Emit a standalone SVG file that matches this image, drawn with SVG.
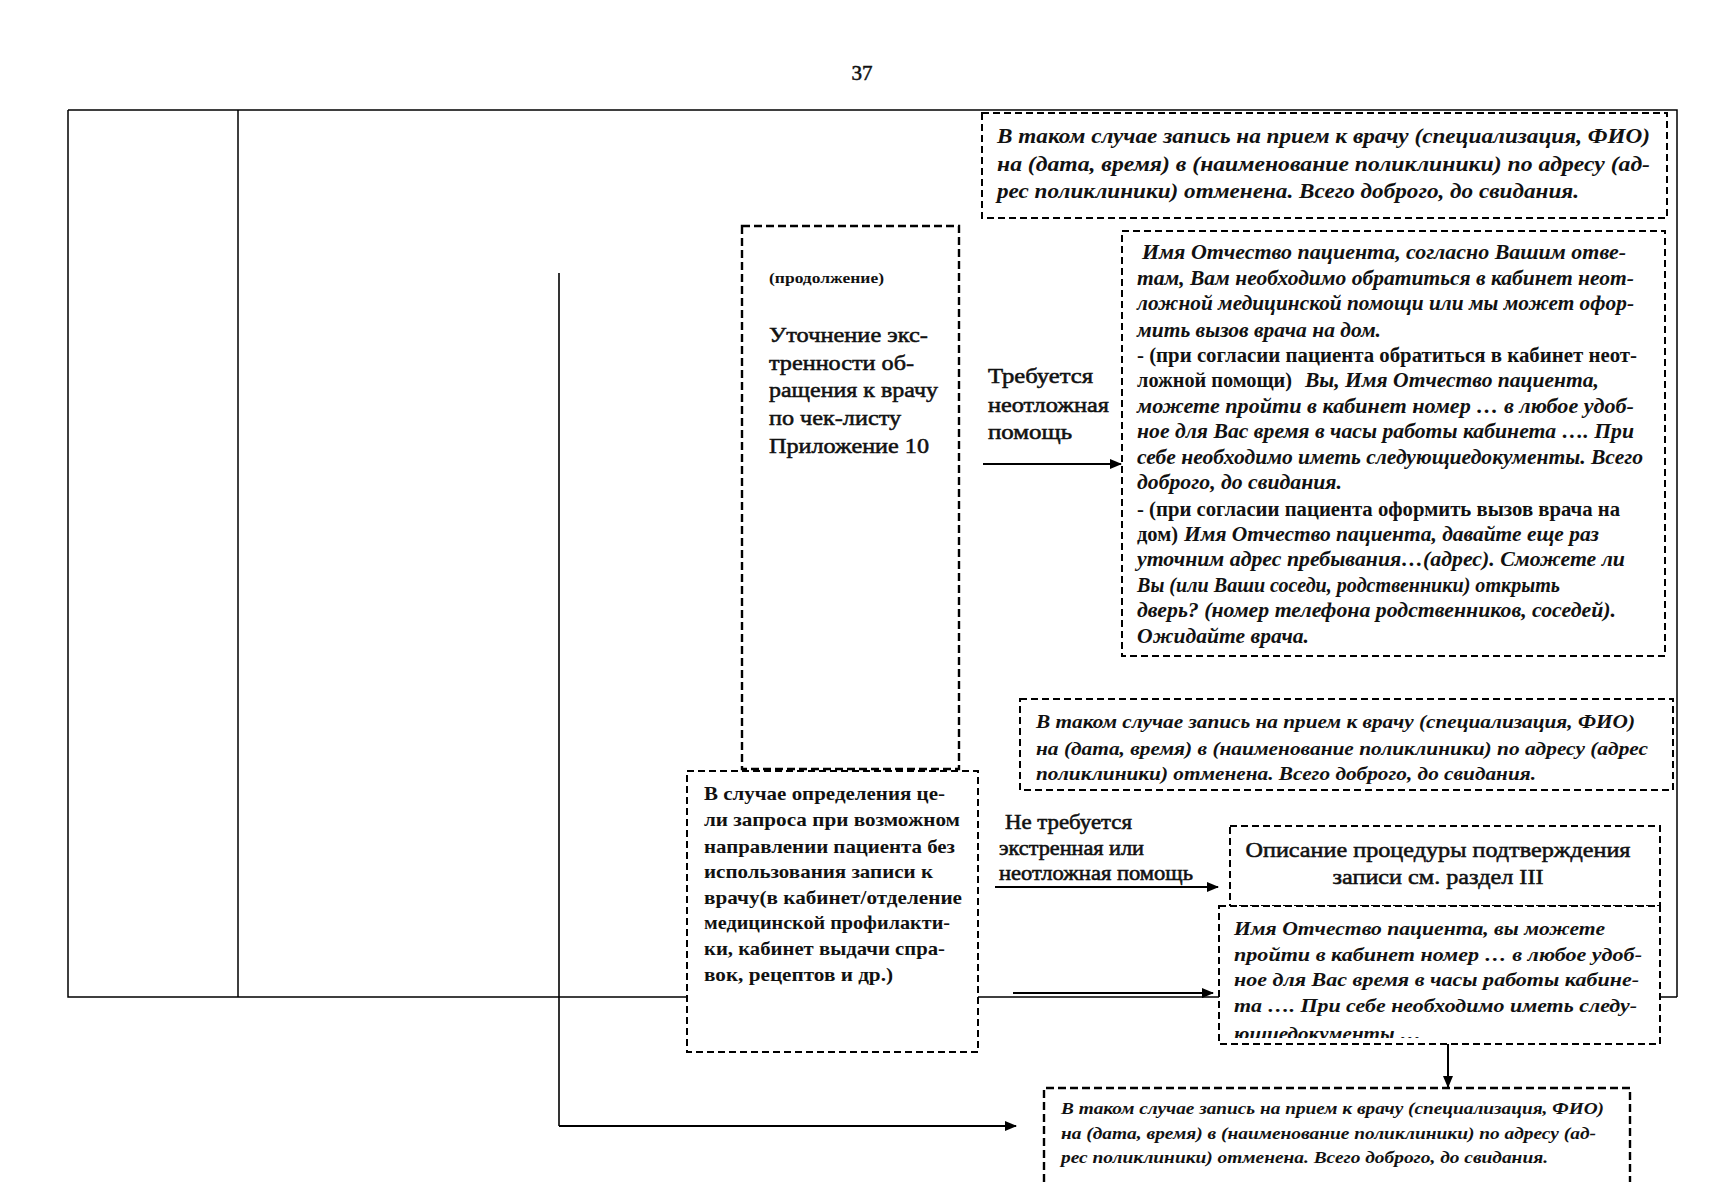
<svg xmlns="http://www.w3.org/2000/svg" width="1711" height="1200" viewBox="0 0 1711 1200">
<style>
.it{font-family:"Liberation Serif",serif;font-style:italic;font-weight:bold;fill:#111;}
.rg{font-family:"Liberation Serif",serif;fill:#111;stroke:#111;stroke-width:0.55;}
.bd{font-family:"Liberation Serif",serif;font-weight:bold;fill:#111;}
.box{fill:#fff;stroke:#000;stroke-width:2;stroke-dasharray:7 4;}
.boxo{fill:none;stroke:#000;stroke-width:2;stroke-dasharray:7 4;}
.ln{stroke:#000;stroke-width:1.6;fill:none;}
.tb{stroke:#000;stroke-width:1.5;fill:none;}
.ar{stroke:#000;stroke-width:2;fill:none;marker-end:url(#ah);}
</style>
<defs>
<marker id="ah" viewBox="0 0 12 10" refX="11" refY="5" markerWidth="12" markerHeight="10" markerUnits="userSpaceOnUse" orient="auto">
<path d="M0,0 L12,5 L0,10 Z" fill="#000"/>
</marker>
<clipPath id="clip7"><rect x="1219" y="906" width="441" height="132"/></clipPath>
</defs>
<rect width="1711" height="1200" fill="#fff"/>

<text class="rg" x="862" y="80" font-size="21" text-anchor="middle">37</text>

<g id="table">
<path class="tb" d="M68,110 H1677 V997 M68,110 V997 H1677 M238,110 V997"/>
</g>

<g id="connectors">
<path class="ln" d="M559,273 V1126"/>
<path class="ar" d="M559,1126 H1016"/>
<path class="ar" d="M983,464 H1121"/>
<path class="ar" d="M995,887 H1218"/>
<path class="ar" d="M1013,993 H1213"/>
<path class="ar" d="M1448,1044 V1087"/>
</g>

<g id="box-cancel-1">
<rect class="box" x="982" y="113" width="685" height="105"/>
<text class="it" font-size="22" x="997" y="143" textLength="653" lengthAdjust="spacingAndGlyphs">В таком случае запись на прием к врачу (специализация, ФИО)</text>
<text class="it" font-size="22" x="997" y="171" textLength="653" lengthAdjust="spacingAndGlyphs">на (дата, время) в (наименование поликлиники) по адресу (ад-</text>
<text class="it" font-size="22" x="997" y="198" textLength="582" lengthAdjust="spacingAndGlyphs">рес поликлиники) отменена. Всего доброго, до свидания.</text>
</g>

<g id="box-urgency">
<rect class="box" x="742" y="226" width="217" height="543" style="stroke-width:2.4;stroke-dasharray:8 4"/>
<text class="bd" font-size="15" x="769" y="283" textLength="115" lengthAdjust="spacingAndGlyphs">(продолжение)</text>
<text class="rg" font-size="22" x="769" y="342" textLength="159" lengthAdjust="spacingAndGlyphs">Уточнение экс-</text>
<text class="rg" font-size="22" x="769" y="370" textLength="145" lengthAdjust="spacingAndGlyphs">тренности об-</text>
<text class="rg" font-size="22" x="769" y="397" textLength="169" lengthAdjust="spacingAndGlyphs">ращения к врачу</text>
<text class="rg" font-size="22" x="769" y="425" textLength="132" lengthAdjust="spacingAndGlyphs">по чек-листу</text>
<text class="rg" font-size="22" x="769" y="453" textLength="160" lengthAdjust="spacingAndGlyphs">Приложение 10</text>
</g>

<g id="label-urgent">
<text class="rg" font-size="21" x="988" y="383" textLength="105" lengthAdjust="spacingAndGlyphs">Требуется</text>
<text class="rg" font-size="21" x="988" y="412" textLength="121" lengthAdjust="spacingAndGlyphs">неотложная</text>
<text class="rg" font-size="21" x="988" y="439" textLength="84" lengthAdjust="spacingAndGlyphs">помощь</text>
</g>

<g id="box-urgent-help">
<rect class="box" x="1122" y="231" width="543" height="425"/>
<text class="it" font-size="20" x="1142" y="259" textLength="484" lengthAdjust="spacingAndGlyphs">Имя Отчество пациента, согласно Вашим отве-</text>
<text class="it" font-size="20" x="1137" y="285" textLength="497" lengthAdjust="spacingAndGlyphs">там, Вам необходимо обратиться в кабинет неот-</text>
<text class="it" font-size="20" x="1137" y="310" textLength="497" lengthAdjust="spacingAndGlyphs">ложной медицинской помощи или мы может офор-</text>
<text class="it" font-size="20" x="1137" y="337" textLength="244" lengthAdjust="spacingAndGlyphs">мить вызов врача на дом.</text>
<text class="bd" font-size="20" x="1137" y="362" textLength="500" lengthAdjust="spacingAndGlyphs">- (при согласии пациента обратиться в кабинет неот-</text>
<text class="bd" font-size="20" x="1137" y="387" textLength="155" lengthAdjust="spacingAndGlyphs">ложной помощи)</text>
<text class="it" font-size="20" x="1305" y="387" textLength="294" lengthAdjust="spacingAndGlyphs">Вы, Имя Отчество пациента,</text>
<text class="it" font-size="20" x="1137" y="413" textLength="497" lengthAdjust="spacingAndGlyphs">можете пройти в кабинет номер … в любое удоб-</text>
<text class="it" font-size="20" x="1137" y="438" textLength="497" lengthAdjust="spacingAndGlyphs">ное для Вас время в часы работы кабинета …. При</text>
<text class="it" font-size="20" x="1137" y="464" textLength="506" lengthAdjust="spacingAndGlyphs">себе необходимо иметь следующиедокументы. Всего</text>
<text class="it" font-size="20" x="1137" y="489" textLength="205" lengthAdjust="spacingAndGlyphs">доброго, до свидания.</text>
<text class="bd" font-size="20" x="1137" y="516" textLength="483" lengthAdjust="spacingAndGlyphs">- (при согласии пациента оформить вызов врача на</text>
<text class="bd" font-size="20" x="1137" y="541" textLength="41" lengthAdjust="spacingAndGlyphs">дом)</text>
<text class="it" font-size="20" x="1184" y="541" textLength="415" lengthAdjust="spacingAndGlyphs">Имя Отчество пациента, давайте еще раз</text>
<text class="it" font-size="20" x="1137" y="566" textLength="488" lengthAdjust="spacingAndGlyphs">уточним адрес пребывания…(адрес). Сможете ли</text>
<text class="it" font-size="20" x="1137" y="592" textLength="423" lengthAdjust="spacingAndGlyphs">Вы (или Ваши соседи, родственники) открыть</text>
<text class="it" font-size="20" x="1137" y="617" textLength="479" lengthAdjust="spacingAndGlyphs">дверь? (номер телефона родственников, соседей).</text>
<text class="it" font-size="20" x="1137" y="643" textLength="172" lengthAdjust="spacingAndGlyphs">Ожидайте врача.</text>
</g>

<g id="box-cancel-2">
<rect class="box" x="1020" y="699" width="653" height="91"/>
<text class="it" font-size="19" x="1036" y="728" textLength="599" lengthAdjust="spacingAndGlyphs">В таком случае запись на прием к врачу (специализация, ФИО)</text>
<text class="it" font-size="19" x="1036" y="755" textLength="612" lengthAdjust="spacingAndGlyphs">на (дата, время) в (наименование поликлиники) по адресу (адрес</text>
<text class="it" font-size="19" x="1036" y="780" textLength="500" lengthAdjust="spacingAndGlyphs">поликлиники) отменена. Всего доброго, до свидания.</text>
</g>

<g id="box-no-appointment">
<rect class="box" x="687" y="771" width="291" height="281"/>
<text class="bd" font-size="19" x="704" y="800" textLength="241" lengthAdjust="spacingAndGlyphs">В случае определения це-</text>
<text class="bd" font-size="19" x="704" y="826" textLength="256" lengthAdjust="spacingAndGlyphs">ли запроса при возможном</text>
<text class="bd" font-size="19" x="704" y="853" textLength="251" lengthAdjust="spacingAndGlyphs">направлении пациента без</text>
<text class="bd" font-size="19" x="704" y="878" textLength="229" lengthAdjust="spacingAndGlyphs">использования записи к</text>
<text class="bd" font-size="19" x="704" y="904" textLength="258" lengthAdjust="spacingAndGlyphs">врачу(в кабинет/отделение</text>
<text class="bd" font-size="19" x="704" y="929" textLength="246" lengthAdjust="spacingAndGlyphs">медицинской профилакти-</text>
<text class="bd" font-size="19" x="704" y="955" textLength="241" lengthAdjust="spacingAndGlyphs">ки, кабинет выдачи спра-</text>
<text class="bd" font-size="19" x="704" y="981" textLength="189" lengthAdjust="spacingAndGlyphs">вок, рецептов и др.)</text>
</g>

<g id="label-not-urgent">
<text class="rg" font-size="20" x="1005" y="829" textLength="127" lengthAdjust="spacingAndGlyphs">Не требуется</text>
<text class="rg" font-size="20" x="999" y="855" textLength="145" lengthAdjust="spacingAndGlyphs">экстренная или</text>
<text class="rg" font-size="20" x="999" y="880" textLength="194" lengthAdjust="spacingAndGlyphs">неотложная помощь</text>
</g>

<g id="box-procedure">
<rect class="box" x="1230" y="826" width="430" height="80"/>
<text class="rg" font-size="22" x="1438" y="857" text-anchor="middle" textLength="385" lengthAdjust="spacingAndGlyphs">Описание процедуры подтверждения</text>
<text class="rg" font-size="22" x="1438" y="884" text-anchor="middle" textLength="211" lengthAdjust="spacingAndGlyphs">записи см. раздел III</text>
</g>

<g id="box-cabinet">
<rect class="box" x="1219" y="906" width="441" height="138"/>
<text class="it" font-size="19" x="1234" y="935" textLength="371" lengthAdjust="spacingAndGlyphs">Имя Отчество пациента,  вы можете</text>
<text class="it" font-size="19" x="1234" y="961" textLength="408" lengthAdjust="spacingAndGlyphs">пройти в кабинет  номер … в любое удоб-</text>
<text class="it" font-size="19" x="1234" y="986" textLength="405" lengthAdjust="spacingAndGlyphs">ное для Вас время в часы работы кабине-</text>
<text class="it" font-size="19" x="1234" y="1012" textLength="403" lengthAdjust="spacingAndGlyphs">та …. При себе необходимо иметь следу-</text>
<text class="it" font-size="19" x="1234" y="1040" textLength="187" lengthAdjust="spacingAndGlyphs" clip-path="url(#clip7)">ющиедокументы …</text>
</g>

<g id="box-cancel-3">
<path class="boxo" d="M1044,1182 V1088 H1630 V1182" style="stroke-width:2.4;stroke-dasharray:8 4"/>
<text class="it" font-size="17" x="1061" y="1114" textLength="543" lengthAdjust="spacingAndGlyphs">В таком случае запись на прием к врачу (специализация, ФИО)</text>
<text class="it" font-size="17" x="1061" y="1139" textLength="535" lengthAdjust="spacingAndGlyphs">на (дата, время) в (наименование поликлиники) по адресу (ад-</text>
<text class="it" font-size="17" x="1061" y="1163" textLength="487" lengthAdjust="spacingAndGlyphs">рес поликлиники) отменена. Всего доброго, до свидания.</text>
</g>
</svg>
